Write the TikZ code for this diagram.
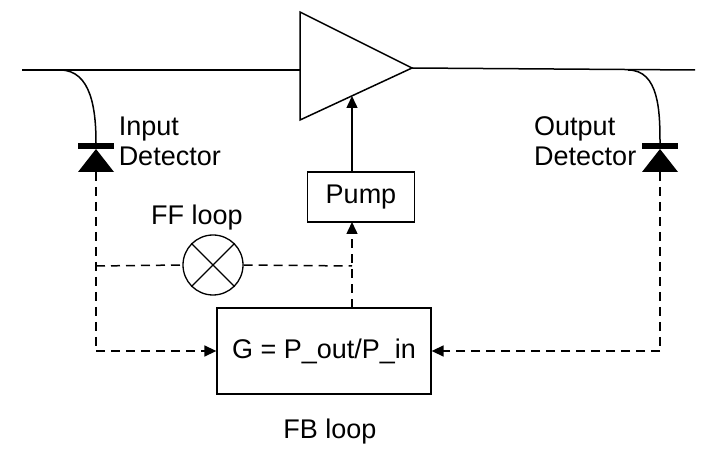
\documentclass[tikz,border=0pt]{standalone}
\usepackage{fontspec}
\setmainfont{Liberation Sans}
\usetikzlibrary{arrows.meta}
\begin{document}
\begin{tikzpicture}[x=1pt,y=-1pt,line width=1.5pt,
  lbl/.style={font=\fontsize{27}{30}\selectfont,inner sep=0},
  dsh/.style={dashed,dash pattern=on 9pt off 6pt},
  arr/.style={-{Triangle[length=12pt,width=11pt]}},
  box/.style={draw,line width=1.3pt,inner sep=0}]
\useasboundingbox (0,0) rectangle (726,470);
% main line
\coordinate (L) at (22,70); \coordinate (R) at (695,70);
\coordinate (ampIn) at (300,70); \coordinate (ampOut) at (412,68);
\draw (L) -- (ampIn);
\draw (ampOut) -- (R);
\draw[fill=white] (300,12) -- (412,68) -- (300,120) -- cycle;
\coordinate (ampB) at (352,96);
% taps
\coordinate (tapL) at (60,70); \coordinate (dL) at (96,143);
\coordinate (tapR) at (628,70); \coordinate (dR) at (660,143);
\draw (tapL) to[out=0,in=90] (dL);
\draw (tapR) to[out=0,in=90] (dR);
% diodes
\foreach \x in {96,660}{
  \fill (\x-18,143) rectangle (\x+18,149);
  \fill (\x,149) -- (\x+18,172) -- (\x-18,172) -- cycle;
}
\coordinate (dLb) at (96,172); \coordinate (dRb) at (660,172);
% labels
\node[lbl,anchor=west,align=left] (inlab) at (118,141) {Input\\Detector};
\node[lbl,anchor=east,align=left] (outlab) at (637,141) {Output\\Detector};
\node[lbl] (ff) at (197,218) {FF loop};
\node[lbl] (fb) at (330,432) {FB loop};
% pump
\node[box,minimum width=107pt,minimum height=50pt,lbl,draw] (pump) at (361,197) {Pump};
\draw[arr] (352,172) -- (ampB);
% G box
\node[box,minimum width=214pt,minimum height=86pt,lbl,draw] (G) at (324,351) {G = P\_out/P\_in};
% multiplier
\node[draw,circle,minimum size=60pt,inner sep=0,line width=1.3pt] (mul) at (213,265) {};
\draw[line width=1.3pt] (mul.north west) -- (mul.south east) (mul.north east) -- (mul.south west);
% dashed
\coordinate (j1) at (96,266); \coordinate (j2) at (352,266);
\draw[dsh] (dLb) -- (96,351);
\draw[dsh,arr] (96,351) -- (G.west);
\draw[dsh] (j1) -- (mul.west);
\draw[dsh] (mul.east) -- (j2);
\draw[dsh,arr] (352,308) -- (352,222);
\draw[dsh] (dRb) -- (660,351);
\draw[dsh,arr] (660,351) -- (G.east);
\end{tikzpicture}
\end{document}
